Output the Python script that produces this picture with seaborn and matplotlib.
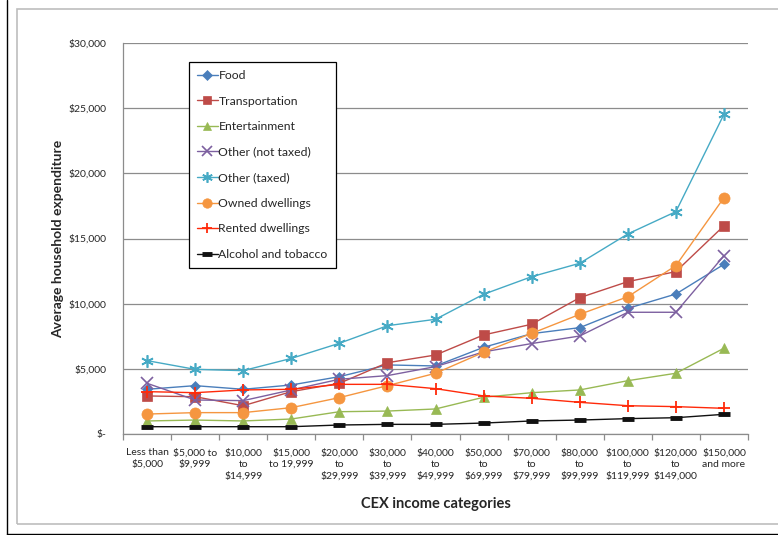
import matplotlib
matplotlib.use("Agg")
import matplotlib.pyplot as plt
from matplotlib.lines import Line2D
from matplotlib.patches import Rectangle
from matplotlib.ticker import FuncFormatter, FixedLocator
import numpy as np
import pandas as pd
import seaborn as sns

# Income brackets (x axis)
categories = [
    "Less than\n$5,000", "$5,000 to\n$9,999", "$10,000\nto\n$14,999",
    "$15,000\nto 19,999", "$20,000\nto\n$29,999", "$30,000\nto\n$39,999",
    "$40,000\nto\n$49,999", "$50,000\nto\n$69,999", "$70,000\nto\n$79,999",
    "$80,000\nto\n$99,999", "$100,000\nto\n$119,999", "$120,000\nto\n$149,000",
    "$150,000\nand more",
]

# Average household expenditure per bracket, in dollars
food = [3430, 3710, 3430, 3760, 4400, 5300, 5220, 6650, 7700, 8160, 9640, 10740, 13020]
transportation = [2920, 2860, 2170, 3250, 3890, 5470, 6060, 7600, 8420, 10460, 11690, 12460, 15980]
entertainment = [1000, 1070, 1000, 1150, 1710, 1760, 1920, 2820, 3170, 3380, 4090, 4660, 6580]
other_not_taxed = [3890, 2610, 2560, 3380, 4200, 4480, 5170, 6300, 6940, 7520, 9340, 9340, 13680]
other_taxed = [5630, 4960, 4860, 5800, 6960, 8310, 8800, 10720, 12070, 13100, 15350, 17060, 24530]
owned_dwellings = [1530, 1640, 1640, 2020, 2790, 3710, 4660, 6270, 7720, 9180, 10530, 12920, 18130]
rented_dwellings = [3250, 3170, 3380, 3430, 3810, 3810, 3480, 2920, 2740, 2430, 2170, 2100, 1970]
alcohol_tobacco = [560, 560, 560, 560, 690, 740, 740, 840, 1000, 1070, 1180, 1250, 1510]

series_names = ["Food", "Transportation", "Entertainment", "Other (not taxed)",
                "Other (taxed)", "Owned dwellings", "Rented dwellings",
                "Alcohol and tobacco"]
series_values = [food, transportation, entertainment, other_not_taxed,
                 other_taxed, owned_dwellings, rented_dwellings, alcohol_tobacco]

styles = {
    "Food": dict(color="#4A7EBB", marker="D", ms=5.5, mew=0.5),
    "Transportation": dict(color="#BE4B48", marker="s", ms=7, mew=0.5),
    "Entertainment": dict(color="#98B954", marker="^", ms=7.5, mew=0.5),
    "Other (not taxed)": dict(color="#7D60A0", marker="x", ms=8, mew=1.2),
    "Other (taxed)": dict(color="#46AAC5", marker=(6, 2, 0), ms=9, mew=1.2),
    "Owned dwellings": dict(color="#F59640", marker="o", ms=8, mew=0.5),
    "Rented dwellings": dict(color="#FF2A0A", marker="+", ms=9, mew=1.3),
    "Alcohol and tobacco": dict(color="#111111", marker="_", ms=8, mew=3.5),
}

rows = []
for name, vals in zip(series_names, series_values):
    for i, v in enumerate(vals):
        rows.append({"income": i, "expenditure": v, "series": name})
df = pd.DataFrame(rows)

sns.set_theme(style="white")
plt.rcParams["font.family"] = ["Lato", "DejaVu Sans"]

fig = plt.figure(figsize=(7.78, 5.35), dpi=100)
ax = fig.add_axes([123 / 778, 1 - 434 / 535, 625 / 778, 391 / 535])

for name in series_names:
    st = styles[name]
    sub = df[df["series"] == name]
    sns.lineplot(data=sub, x="income", y="expenditure", ax=ax, color=st["color"],
                 linewidth=1.0, marker=st["marker"], markersize=st["ms"],
                 markeredgewidth=st["mew"], markeredgecolor=st["color"],
                 markerfacecolor=st["color"], sort=False, label=name, legend=False)

ax.set_xlim(-0.5, len(categories) - 0.5)
ax.set_ylim(0, 30000)
ax.set_yticks(np.arange(0, 30001, 5000))
ax.yaxis.set_major_formatter(FuncFormatter(lambda v, p: "$-" if v == 0 else f"${v:,.0f}"))
ax.yaxis.grid(True, color="#8C8C8C", linewidth=0.9)
ax.set_axisbelow(True)

ax.set_xticks(range(len(categories)))
ax.set_xticklabels(categories, fontsize=7.5, linespacing=1.35)
ax.xaxis.set_minor_locator(FixedLocator(np.arange(-0.5, len(categories), 1.0)))
ax.tick_params(axis="x", which="major", length=0, pad=10)
ax.tick_params(axis="x", which="minor", length=4, color="#8C8C8C", width=0.9, direction="out")
ax.tick_params(axis="y", which="major", length=4, color="#8C8C8C", width=0.9,
               direction="out", labelsize=7.5, pad=8)
ax.tick_params(axis="x", bottom=True, which="minor")

for side in ["top", "right"]:
    ax.spines[side].set_visible(False)
for side in ["left", "bottom"]:
    ax.spines[side].set_color("#8C8C8C")
    ax.spines[side].set_linewidth(0.9)

ax.set_xlabel("CEX income categories", fontsize=10.5, fontweight="bold")
ax.set_ylabel("Average household expenditure", fontsize=10, fontweight="bold")
ax.xaxis.set_label_coords(0.5, -0.162)
ax.yaxis.set_label_coords(-0.095, 0.5)

handles = []
for name in series_names:
    st = styles[name]
    handles.append(Line2D([], [], color=st["color"], linewidth=1.0, marker=st["marker"],
                          markersize=st["ms"] * 0.85, markeredgewidth=st["mew"],
                          markerfacecolor=st["color"], markeredgecolor=st["color"]))
leg = fig.legend(handles, series_names, loc="upper left",
                 bbox_to_anchor=(189 / 778, 1 - 62 / 535), fontsize=8.8,
                 frameon=True, fancybox=False, edgecolor="black", framealpha=1,
                 labelspacing=1.19, handlelength=1.7, handletextpad=0.05,
                 borderpad=0.66, borderaxespad=0)
leg.get_frame().set_linewidth(0.9)

# Chart area and page frame
fig.add_artist(Rectangle((16.5 / 778, 1 - 523.5 / 535), 800 / 778, 515 / 535,
                         transform=fig.transFigure, fill=False,
                         edgecolor="#BDBDBD", linewidth=1.2))
fig.add_artist(Line2D([7 / 778, 7 / 778], [0, 1], transform=fig.transFigure,
                      color="black", linewidth=1.0))
fig.add_artist(Line2D([7 / 778, 1], [1 - 533.5 / 535, 1 - 533.5 / 535],
                      transform=fig.transFigure, color="black", linewidth=1.0))

fig.savefig("out.png", dpi=100)
